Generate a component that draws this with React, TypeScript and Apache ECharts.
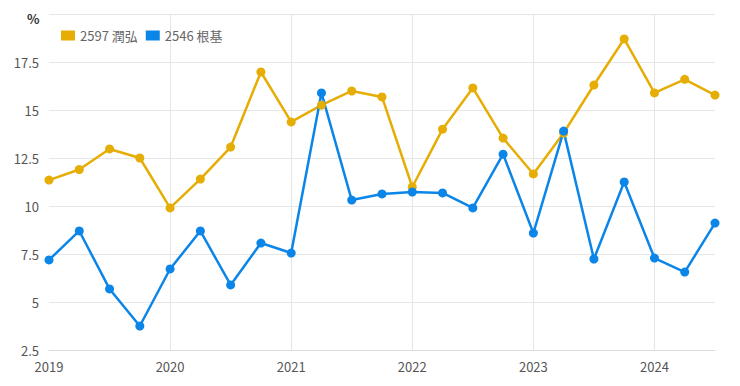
import React, { useEffect, useRef } from "react";
import * as echarts from "echarts";

const quarters = [
  2019, 2019.25, 2019.5, 2019.75, 2020, 2020.25, 2020.5, 2020.75, 2021, 2021.25, 2021.5, 2021.75,
  2022, 2022.25, 2022.5, 2022.75, 2023, 2023.25, 2023.5, 2023.75, 2024, 2024.25, 2024.5,
];
const runhong = [
  11.35, 11.9, 12.97, 12.5, 9.9, 11.4, 13.07, 16.98, 14.38, 15.25, 15.99, 15.68,
  10.99, 14.0, 16.15, 13.54, 11.67, 13.8, 16.3, 18.7, 15.89, 16.6, 15.78,
];
const kingen = [
  7.19, 8.7, 5.68, 3.75, 6.72, 8.7, 5.89, 8.07, 7.55, 15.89, 10.31, 10.63,
  10.73, 10.68, 9.9, 12.7, 8.59, 13.9, 7.24, 11.25, 7.29, 6.56, 9.11,
];
const seriesNames = ["2597 潤弘", "2546 根基"];
const colors = ["#E6AD05", "#0B86E8"];

export default function App() {
  const ref = useRef<HTMLDivElement>(null);
  useEffect(() => {
    if (!ref.current) return;
    const chart = echarts.init(ref.current, null, { renderer: "svg" });
    const font = "'Noto Sans CJK TC', 'Noto Sans', sans-serif";
    chart.setOption({
      animation: false,
      textStyle: { fontFamily: font },
      color: colors,
      legend: {
        left: 56,
        top: 24,
        itemWidth: 14,
        itemHeight: 10,
        itemGap: 8,
        icon: "rect",
        textStyle: { color: "#666", fontSize: 13, fontFamily: font },
        data: seriesNames,
      },
      graphic: [
        {
          type: "text",
          left: 27,
          top: 12,
          style: { text: "%", fill: "#333", fontSize: 13, fontWeight: "bold", fontFamily: font },
        },
      ],
      grid: { left: 49, right: 25, top: 14, bottom: 36 },
      xAxis: {
        type: "value",
        min: 2019,
        max: 2024.5,
        interval: 1,
        axisLine: { show: true, lineStyle: { color: "#ddd" } },
        axisTick: { show: false },
        splitLine: { show: true, showMinLine: false, showMaxLine: false, lineStyle: { color: "#e6e6e6" } },
        axisLabel: {
          color: "#555",
          fontSize: 13,
          margin: 10,
          formatter: (v: number) => (Number.isInteger(v) ? String(v) : ""),
        },
      },
      yAxis: {
        type: "value",
        min: 2.5,
        max: 20,
        interval: 2.5,
        axisLine: { show: false },
        axisTick: { show: false },
        splitLine: { show: true, lineStyle: { color: "#e6e6e6" } },
        axisLabel: {
          color: "#555",
          fontSize: 13,
          margin: 10,
          formatter: (v: number) => (v === 20 ? "" : String(v)),
        },
      },
      series: [
        {
          name: seriesNames[0],
          type: "line",
          data: quarters.map((q, i) => [q, runhong[i]]),
          symbol: "circle",
          symbolSize: 9,
          lineStyle: { width: 2.5 },
        },
        {
          name: seriesNames[1],
          type: "line",
          data: quarters.map((q, i) => [q, kingen[i]]),
          symbol: "circle",
          symbolSize: 9,
          lineStyle: { width: 2.5 },
        },
      ],
    });
    return () => chart.dispose();
  }, []);
  return <div ref={ref} style={{ width: 740, height: 386, position: "absolute", left: 0, top: 0 }} />;
}
